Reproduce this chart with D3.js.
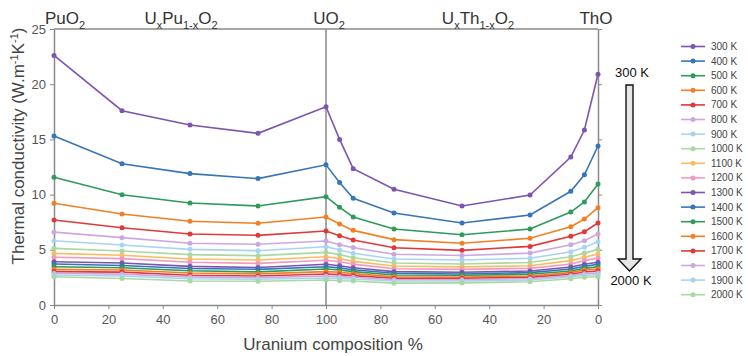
<!DOCTYPE html>
<html><head><meta charset="utf-8">
<script src="https://cdn.jsdelivr.net/npm/d3@7"></script>
<style>
html,body{margin:0;padding:0;background:#fff;}
svg{display:block;font-family:"Liberation Sans",Arial,sans-serif;}
</style></head>
<body><svg id="c" width="748" height="356"></svg>
<script>
// Compositions (uranium %): U-Pu side then U-Th side
const compLeft = [0, 25, 50, 75, 100];
const compRight = [95, 90, 75, 50, 25, 10, 5, 0];
const temps = ["300 K","400 K","500 K","600 K","700 K","800 K","900 K","1000 K","1100 K","1200 K",
               "1300 K","1400 K","1500 K","1600 K","1700 K","1800 K","1900 K","2000 K"];
const xTicksLeft = [0, 20, 40, 60, 80, 100];
const xTicksRight = [80, 60, 40, 20, 0];
const yTicks = [0, 5, 10, 15, 20, 25];

const k300  = [22.6,17.6,16.3,15.55,17.96,15.0,12.35,10.48,8.97,9.96,13.4,15.85,20.9];
const k400  = [15.3,12.8,11.9,11.45,12.7,11.1,9.66,8.33,7.43,8.15,10.3,11.8,14.4];
const k500  = [11.57,9.99,9.24,8.97,9.81,8.85,7.97,6.88,6.37,6.88,8.42,9.33,10.96];
const k600  = [9.21,8.24,7.58,7.4,7.97,7.34,6.76,5.92,5.59,6.04,7.09,7.79,8.82];
const k700  = [7.7,7.0,6.43,6.31,6.7,6.28,5.89,5.19,4.95,5.31,6.22,6.64,7.43];
const k800  = [6.6,6.1,5.6,5.5,5.8,5.46,5.2,4.6,4.48,4.7,5.45,5.82,6.43];
const k900  = [5.82,5.43,5.04,4.92,5.28,4.98,4.68,4.17,4.08,4.23,4.82,5.22,5.73];
const k1000 = [5.13,4.89,4.56,4.47,4.77,4.56,4.28,3.8,3.72,3.85,4.37,4.7,5.04];
const k1100 = [4.68,4.5,4.17,4.08,4.37,4.2,3.95,3.53,3.45,3.56,4.02,4.32,4.62];
const k1200 = [4.32,4.2,3.87,3.77,4.05,3.92,3.7,3.29,3.23,3.32,3.72,4.02,4.26];
const k1300 = [3.92,3.8,3.5,3.4,3.69,3.55,3.38,3.02,2.96,3.08,3.44,3.69,3.87];
const k1400 = [3.71,3.58,3.3,3.23,3.47,3.36,3.2,2.87,2.81,2.93,3.26,3.5,3.69];
const k1500 = [3.47,3.37,3.1,3.0,3.26,3.17,3.02,2.72,2.69,2.78,3.08,3.32,3.47];
const k1600 = [3.23,3.17,2.9,2.82,3.02,2.96,2.84,2.56,2.54,2.63,2.93,3.17,3.26];
const k1700 = [3.02,2.98,2.7,2.63,2.81,2.75,2.66,2.42,2.42,2.5,2.78,2.99,3.08];
const k1800 = [2.87,2.8,2.55,2.48,2.63,2.57,2.51,2.29,2.29,2.38,2.66,2.84,2.9];
const k1900 = [2.72,2.63,2.38,2.33,2.45,2.39,2.36,2.17,2.17,2.26,2.54,2.69,2.74];
const k2000 = [2.56,2.4,2.18,2.15,2.26,2.2,2.18,1.98,2.0,2.1,2.38,2.51,2.56];

const series = [k300,k400,k500,k600,k700,k800,k900,k1000,k1100,k1200,k1300,k1400,k1500,k1600,k1700,k1800,k1900,k2000];
const palette = ["#7b55b0","#3676b8","#2f9a5c","#f37f25","#e0393a","#cda8df","#a9d3f3","#a9d9a1","#f9bd60","#f19ac0"];

const svg = d3.select("#c");
const L = 54, M = 326, R = 598, T = 29, B = 305;
const xL = d3.scaleLinear().domain([0,100]).range([L,M]);
const xR = d3.scaleLinear().domain([100,0]).range([M,R]);
const y = d3.scaleLinear().domain([0,25]).range([B,T]);

const axisCol = "#8a8a8a", tickTxt = "#555";

// top border
svg.append("line").attr("x1",L).attr("x2",R).attr("y1",T).attr("y2",T).attr("stroke",axisCol).attr("stroke-width",1.3);

// left y axis
const gy = svg.append("g").attr("transform",`translate(${L},0)`)
  .call(d3.axisLeft(y).tickValues(yTicks).tickSize(4).tickSizeOuter(0));
gy.select(".domain").attr("stroke",axisCol).attr("stroke-width",1.5);
gy.selectAll(".tick line").attr("stroke",axisCol);
gy.selectAll(".tick text").attr("fill",tickTxt).attr("font-size",13).attr("font-family","Liberation Sans, Arial, sans-serif").attr("x",-8);

// right y axis (ticks, no labels)
const gy2 = svg.append("g").attr("transform",`translate(${R},0)`)
  .call(d3.axisRight(y).tickValues(yTicks).tickSize(4).tickSizeOuter(0).tickFormat(""));
gy2.select(".domain").attr("stroke",axisCol).attr("stroke-width",1.5);
gy2.selectAll(".tick line").attr("stroke",axisCol);

// middle divider
svg.append("line").attr("x1",M).attr("x2",M).attr("y1",T).attr("y2",B).attr("stroke",axisCol).attr("stroke-width",1.5);

// bottom axes
const gxl = svg.append("g").attr("transform",`translate(0,${B})`)
  .call(d3.axisBottom(xL).tickValues(xTicksLeft).tickSize(4).tickSizeOuter(0));
const gxr = svg.append("g").attr("transform",`translate(0,${B})`)
  .call(d3.axisBottom(xR).tickValues(xTicksRight).tickSize(4).tickSizeOuter(0));
[gxl,gxr].forEach(g=>{
  g.select(".domain").attr("stroke",axisCol).attr("stroke-width",1.5);
  g.selectAll(".tick line").attr("stroke",axisCol);
  g.selectAll(".tick text").attr("fill",tickTxt).attr("font-size",13).attr("font-family","Liberation Sans, Arial, sans-serif").attr("y",10);
});

// data lines
const xs = compLeft.map(c=>xL(c)).concat(compRight.map(c=>xR(c)));
const line = d3.line().x((d,i)=>xs[i]).y(d=>y(d));
series.forEach((s,si)=>{
  const col = palette[si % palette.length];
  svg.append("path").datum(s).attr("d",line).attr("fill","none").attr("stroke",col).attr("stroke-width",1.6);
  svg.append("g").selectAll("circle").data(s).join("circle")
    .attr("cx",(d,i)=>xs[i]).attr("cy",d=>y(d)).attr("r",2.5).attr("fill",col);
});

// axis titles
svg.append("text").attr("x",333).attr("y",350).attr("text-anchor","middle")
  .attr("font-size",17).attr("fill","#444").text("Uranium composition %");

const yl = svg.append("text").attr("transform","translate(24,146) rotate(-90)").attr("text-anchor","middle")
  .attr("font-size",17).attr("fill","#444");
yl.append("tspan").text("Thermal conductivity (W.m");
yl.append("tspan").attr("dy",-6).attr("font-size",11).text("-1");
yl.append("tspan").attr("dy",6).text("K");
yl.append("tspan").attr("dy",-6).attr("font-size",11).text("-1");
yl.append("tspan").attr("dy",6).text(")");

// top composition labels: parts are [text, isSubscript]
function chem(x, parts){
  const t = svg.append("text").attr("x",x).attr("y",24).attr("text-anchor","middle").attr("font-size",17).attr("fill","#333");
  let wasSub=false;
  parts.forEach(([txt,isSub])=>{
    const ts = t.append("tspan").text(txt);
    if(isSub){ ts.attr("dy",5).attr("font-size",11); wasSub=true; }
    else if(wasSub){ ts.attr("dy",-5); wasSub=false; }
  });
}
chem(65, [["PuO",0],["2",1]]);
chem(181, [["U",0],["x",1],["Pu",0],["1-x",1],["O",0],["2",1]]);
chem(329, [["UO",0],["2",1]]);
chem(478, [["U",0],["x",1],["Th",0],["1-x",1],["O",0],["2",1]]);
chem(596, [["ThO",0]]);

// temperature arrow
svg.append("text").attr("x",632).attr("y",77).attr("text-anchor","middle").attr("font-size",13).attr("fill","#111").text("300 K");
svg.append("text").attr("x",631).attr("y",285).attr("text-anchor","middle").attr("font-size",13).attr("fill","#111").text("2000 K");
svg.append("path")
  .attr("d","M626,85 L633,85 L633,259 L641,259 L629.5,271 L618,259 L626,259 Z")
  .attr("fill","#e6e6e6").attr("stroke","#111").attr("stroke-width",1.4);

// legend
const lg = svg.append("g");
temps.forEach((t,i)=>{
  const col = palette[i % palette.length];
  const yy = 46.5 + i*14.6;
  lg.append("line").attr("x1",681).attr("x2",705).attr("y1",yy).attr("y2",yy).attr("stroke",col).attr("stroke-width",1.6);
  lg.append("circle").attr("cx",693).attr("cy",yy).attr("r",2.5).attr("fill",col);
  lg.append("text").attr("x",711).attr("y",yy+3.5).attr("font-size",10).attr("fill","#444").text(t);
});
</script></body></html>
